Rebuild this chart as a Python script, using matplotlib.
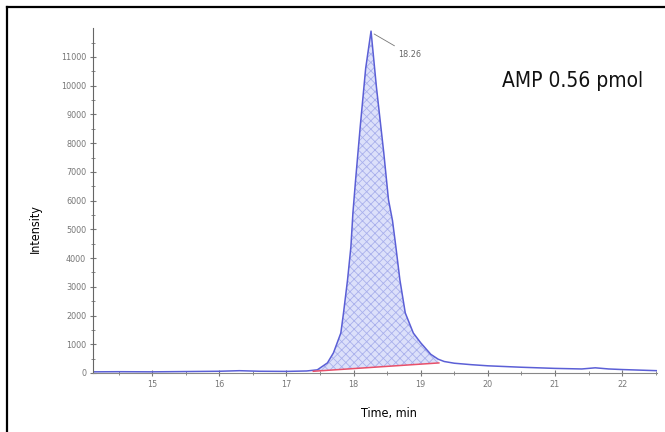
import matplotlib
matplotlib.use("Agg")
from matplotlib import pyplot as plt
from matplotlib.lines import Line2D

plt.rcParams['font.family'] = ['Liberation Sans Narrow', 'DejaVu Sans']
plt.rcParams['font.stretch'] = 'condensed'
plt.rcParams['hatch.linewidth'] = 0.6

# chromatogram trace (time in min, intensity)
time = [14.12, 14.5, 15.0, 15.5, 16.0, 16.3, 16.6, 17.0, 17.3, 17.46, 17.61, 17.70,
        17.81, 17.85, 17.91, 17.96, 17.99, 18.03, 18.10, 18.18, 18.26, 18.34,
        18.45, 18.52, 18.58, 18.63, 18.69, 18.77, 18.89, 19.00, 19.15, 19.26,
        19.35, 19.5, 19.75, 20.0, 20.5, 21.0, 21.4, 21.6, 21.8, 22.0, 22.52]
intensity = [40, 45, 40, 50, 60, 80, 60, 55, 70, 110, 350, 700,
             1390, 2090, 3240, 4390, 5570, 6720, 8600, 10600, 11900, 9960,
             7660, 6030, 5300, 4390, 3240, 2090, 1390, 1050, 650, 480,
             400, 340, 290, 250, 200, 160, 140, 180, 140, 120, 80]

# integration baseline
base_t = [17.40, 19.27]
base_i = [60, 350]

peak_label = "18.26"
title_text = "AMP 0.56 pmol"

fig = plt.figure(figsize=(6.65, 4.32), dpi=100)
ax = fig.add_axes([0.140, 0.1366, 0.848, 0.798])

# fill between trace and baseline
pk_t = [t for t in time if base_t[0] <= t <= base_t[1]]
pk_i = [i for t, i in zip(time, intensity) if base_t[0] <= t <= base_t[1]]
slope = (base_i[1] - base_i[0]) / (base_t[1] - base_t[0])
pk_b = [base_i[0] + slope * (t - base_t[0]) for t in pk_t]
ax.fill_between(pk_t, pk_b, pk_i, facecolor='#dce0fa', edgecolor='#a9b0ec',
                hatch='xxxx', linewidth=0)

ax.plot(time, intensity, color='#5b5fd6', lw=1.1)
ax.plot(base_t, base_i, color='#e8506a', lw=1.1)

ax.annotate(peak_label, xy=(18.27, 11850), xytext=(18.66, 11000),
            fontsize=6.5, color='#666666',
            arrowprops=dict(arrowstyle='-', color='#777777', lw=0.6))

ax.set_xlim(14.12, 22.52)
ax.set_ylim(0, 12000)
ax.set_xticks(range(15, 23))
ax.set_yticks(range(0, 12000, 1000))
ax.set_xticks([x + 0.5 for x in range(14, 23) if 14.12 < x + 0.5 < 22.52], minor=True)
ax.set_yticks(range(500, 12000, 1000), minor=True)
ax.tick_params(direction='inout', length=4, width=0.8, colors='#777777',
               labelsize=6.5, pad=3)
ax.tick_params(which='minor', direction='inout', length=2.5, width=0.6, colors='#777777')

for s in ['top', 'right']:
    ax.spines[s].set_visible(False)
ax.spines['left'].set_color('#666666')
ax.spines['bottom'].set_color('#888888')

ax.set_ylabel("Intensity", fontsize=9)
ax.set_xlabel("Time, min", fontsize=9)
ax.yaxis.set_label_coords(-0.09, 0.42)
ax.xaxis.set_label_coords(0.525, -0.1)

ax.text(0.975, 0.848, title_text, transform=ax.transAxes, ha='right', va='center',
        fontsize=15, color='#111111')

# frame lines on top and left of the figure
fig.add_artist(Line2D([7 / 665, 7 / 665], [0, 1 - 7 / 432], transform=fig.transFigure,
                      color='black', lw=1.6))
fig.add_artist(Line2D([7 / 665, 1], [1 - 7 / 432, 1 - 7 / 432], transform=fig.transFigure,
                      color='black', lw=1.6))

fig.savefig("out.png", dpi=100)
